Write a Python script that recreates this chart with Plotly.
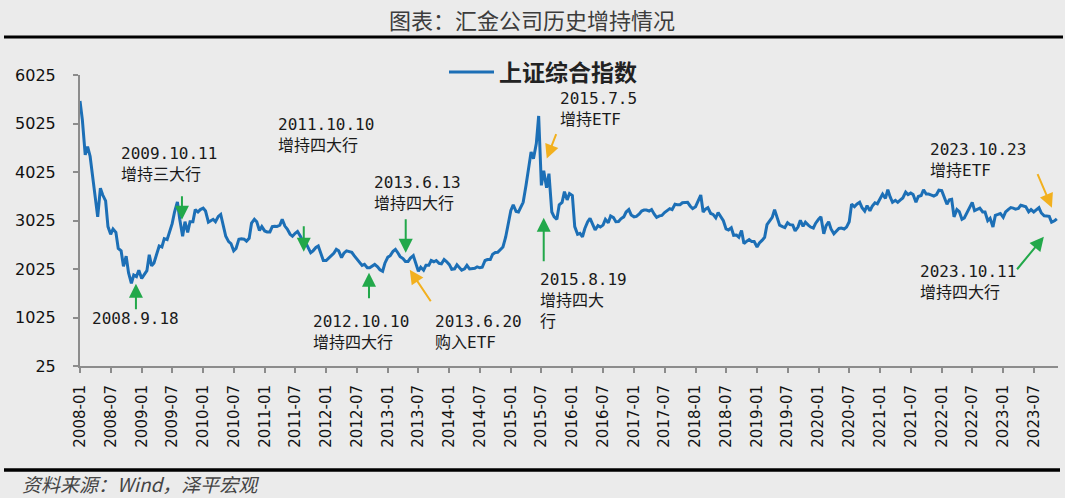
import plotly.graph_objects as go
import pandas as pd

# 上证综合指数, values read off the chart roughly twice a month (1st and 15th)
y2008 = [5490, 5100, 4380, 4550, 4350, 3950, 3470, 3100, 3690, 3550, 3430, 2900,
         2740, 2850, 2780, 2450, 2400, 2080, 2290, 1950, 1730, 1900, 1870, 2000]
y2009 = [1830, 1900, 1990, 2320, 2090, 2150, 2370, 2500, 2480, 2650, 2630, 2800,
         2960, 3200, 3410, 3050, 2700, 3000, 2780, 3000, 3000, 3250, 3200, 3250]
y2010 = [3280, 3220, 2990, 3020, 3050, 3000, 3110, 3150, 2870, 2700, 2590, 2550,
         2400, 2450, 2640, 2650, 2640, 2600, 2660, 2970, 3050, 3000, 2820, 2900]
y2011 = [2810, 2790, 2790, 2900, 2905, 2900, 2930, 3050, 2910, 2850, 2740, 2700,
         2760, 2800, 2700, 2600, 2570, 2480, 2360, 2400, 2470, 2500, 2330, 2200]
y2012 = [2200, 2250, 2290, 2350, 2430, 2400, 2260, 2350, 2400, 2380, 2370, 2300,
         2225, 2170, 2100, 2120, 2050, 2050, 2090, 2120, 2070, 2010, 1980, 2150]
y2013 = [2270, 2300, 2390, 2430, 2360, 2280, 2240, 2180, 2180, 2250, 2300, 2160,
         1980, 2060, 2000, 2100, 2100, 2200, 2175, 2200, 2140, 2130, 2220, 2180]
y2014 = [2115, 2020, 2030, 2110, 2060, 2000, 2030, 2100, 2025, 2025, 2040, 2070,
         2050, 2060, 2200, 2220, 2220, 2330, 2365, 2370, 2420, 2480, 2680, 2950]
y2015 = [3235, 3350, 3210, 3200, 3310, 3400, 3750, 4100, 4440, 4300, 4610, 5180,
         3750, 4050, 3700, 3990, 3200, 3100, 3050, 3350, 3400, 3620, 3450, 3580]
y2016 = [3540, 2900, 2740, 2760, 2690, 2860, 3000, 3070, 2940, 2830, 2920, 2890,
         2930, 3050, 2980, 3120, 3085, 3000, 3005, 3060, 3100, 3200, 3250, 3140]
y2017 = [3100, 3110, 3160, 3220, 3240, 3240, 3220, 3250, 3155, 3090, 3120, 3130,
         3190, 3220, 3270, 3250, 3360, 3350, 3350, 3390, 3395, 3400, 3320, 3270]
y2018 = [3310, 3410, 3550, 3200, 3260, 3290, 3170, 3150, 3080, 3190, 3095, 3020,
         2850, 2830, 2875, 2720, 2725, 2680, 2820, 2550, 2600, 2630, 2590, 2590]
y2019 = [2480, 2560, 2620, 2680, 2940, 3020, 3090, 3250, 3080, 2930, 2900, 2880,
         2980, 2940, 2930, 2810, 2890, 3030, 2905, 2990, 2930, 2890, 2870, 2970]
y2020 = [3050, 3100, 2750, 2920, 3000, 2850, 2750, 2810, 2860, 2870, 2850, 2890,
         3000, 3360, 3310, 3360, 3400, 3290, 3220, 3330, 3225, 3320, 3390, 3370]
y2021 = [3470, 3570, 3480, 3660, 3510, 3400, 3440, 3400, 3450, 3490, 3610, 3560,
         3590, 3560, 3400, 3520, 3540, 3660, 3570, 3570, 3550, 3530, 3560, 3650]
y2022 = [3640, 3520, 3360, 3450, 3460, 3100, 3250, 3210, 3050, 3080, 3190, 3300,
         3400, 3230, 3250, 3280, 3200, 3200, 3020, 3070, 2890, 3130, 3150, 3170]
y2023 = [3090, 3200, 3255, 3290, 3280, 3260, 3273, 3340, 3323, 3310, 3205, 3250,
         3202, 3240, 3291, 3180, 3120, 3117, 3110, 2990, 3018, 3060]

values = (y2008 + y2009 + y2010 + y2011 + y2012 + y2013 + y2014 + y2015 +
          y2016 + y2017 + y2018 + y2019 + y2020 + y2021 + y2022 + y2023)
dates = pd.date_range("2008-01-01", periods=len(values), freq="SMS")

y_ticks = [25, 1025, 2025, 3025, 4025, 5025, 6025]

# 汇金 events: label text, arrow tip (date, index level), arrow colour
labels = ["2009.10.11<br>增持三大行", "2008.9.18", "2011.10.10<br>增持四大行",
          "2013.6.13<br>增持四大行", "2012.10.10<br>增持四大行", "2013.6.20<br>购入ETF",
          "2015.7.5<br>增持ETF", "2015.8.19<br>增持四大<br>行", "2023.10.23<br>增持ETF",
          "2023.10.11<br>增持四大行"]
tip_dates = ["2009-08-28", "2008-11-28", "2011-08-21", "2013-04-17", "2012-09-11",
             "2013-05-11", "2015-08-02", "2015-07-15", "2023-10-17", "2023-08-30"]
tip_values = [3041, 1719, 2380, 2360, 1946, 2008, 4302, 3083, 3289, 2690]
kinds = ["buy", "buy", "buy", "buy", "buy", "etf", "etf", "buy", "etf", "buy"]

GREEN = "#22a84a"
ORANGE = "#f2b01e"
BLUE = "#1c6fb6"

# plot area in pixels: x 80..1058, y 75..366
def px(x):
    return (x - 80) / 978

def py(y):
    return (366 - y) / 291

label_pos = [(119, 164), (90, 318), (276, 135), (372, 193), (311, 332), (433, 332),
             (558, 109), (538, 300), (928, 160), (918, 282)]
arrow_off = [(0, -25), (0, 27), (0, -27), (0, -35), (0, 27), (22, 33),
             (10, -26), (0, 45), (-15, -35), (-28, 34)]

fig = go.Figure()
fig.add_trace(go.Scatter(x=dates, y=values, mode="lines", name="上证综合指数",
                         line=dict(color=BLUE, width=3)))

annotations = []
for lab, (lx, ly), d, v, (ax, ay), k in zip(labels, label_pos, tip_dates, tip_values,
                                            arrow_off, kinds):
    annotations.append(dict(text=lab, xref="paper", yref="paper", x=px(lx), y=py(ly),
                            xanchor="left", yanchor="middle", showarrow=False, align="left",
                            font=dict(family="DejaVu Sans Mono, Noto Sans CJK SC",
                                      size=16, color="#1a1a1a")))
    annotations.append(dict(text="", x=d, y=v, xref="x", yref="y", ax=ax, ay=ay,
                            showarrow=True, arrowhead=2, arrowsize=1.4, arrowwidth=2,
                            standoff=0,
                            arrowcolor=GREEN if k == "buy" else ORANGE))

annotations.append(dict(text="图表：汇金公司历史增持情况", xref="paper", yref="paper",
                        x=px(532), y=py(19), xanchor="center", yanchor="middle",
                        showarrow=False,
                        font=dict(family="Noto Sans CJK SC", size=22, color="#3c3c3c")))
annotations.append(dict(text="资料来源：Wind，泽平宏观", xref="paper", yref="paper",
                        x=px(20), y=py(484), xanchor="left", yanchor="middle",
                        showarrow=False,
                        font=dict(family="Noto Sans CJK SC", size=19, color="#444444",
                                  style="italic")))

fig.update_layout(
    width=1065, height=498,
    margin=dict(l=80, r=7, t=75, b=132),
    paper_bgcolor="#ebebeb", plot_bgcolor="#ebebeb",
    showlegend=True,
    legend=dict(x=px(444), y=py(72), xanchor="left", yanchor="middle",
                bgcolor="rgba(0,0,0,0)", itemwidth=45,
                font=dict(family="Noto Sans CJK SC", size=23, color="#222", weight="bold")),
    annotations=annotations,
    shapes=[
        dict(type="line", xref="paper", yref="paper", x0=px(4), x1=px(1063),
             y0=py(37), y1=py(37), line=dict(color="black", width=3)),
        dict(type="line", xref="paper", yref="paper", x0=px(4), x1=px(1060),
             y0=py(470), y1=py(470), line=dict(color="black", width=3.5)),
    ],
)
fig.update_xaxes(type="date", range=["2008-01-01", "2023-11-22"], tick0="2008-01-01",
                 dtick="M6", tickformat="%Y-%m", tickangle=-90, ticks="outside",
                 ticklen=5, tickwidth=2, tickcolor="#8c8c8c", showline=True,
                 linecolor="#8c8c8c", linewidth=2, showgrid=False, zeroline=False,
                 ticklabelstandoff=6,
                 tickfont=dict(family="DejaVu Sans", size=15, color="#111"))
fig.update_yaxes(range=[25, 6025], tickvals=y_ticks, ticktext=[str(t) for t in y_ticks],
                 ticks="outside", ticklen=5,
                 tickwidth=2, tickcolor="#8c8c8c", showline=True, linecolor="#8c8c8c",
                 linewidth=2, showgrid=False, zeroline=False, ticklabelstandoff=14,
                 tickfont=dict(family="DejaVu Sans", size=16, color="#111"))

fig.write_html("out.html", config={"displayModeBar": False},
               post_script="document.body.style.margin='0';"
                           "document.body.style.background='#ebebeb';")
